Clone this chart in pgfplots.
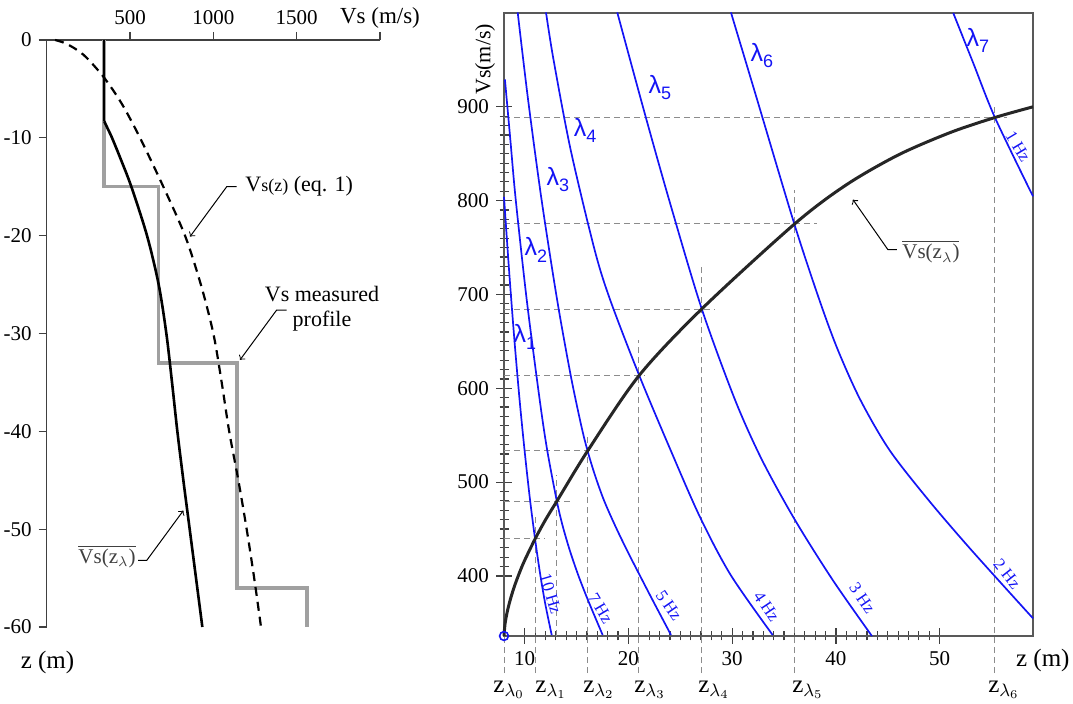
\documentclass[border=0pt]{standalone}
\usepackage{pgfplots}
\pgfplotsset{compat=1.18}
\usepackage{fontspec}
\setmainfont{Liberation Serif}
\newfontfamily\lsans{Liberation Sans}
\newcommand{\lam}[1]{{\lsans λ\raisebox{-0.5ex}{\fontsize{9}{9}\selectfont #1}}}
\newcommand{\zl}[1]{z$_{\lambda_{#1}}$}
\newcommand{\vbar}{$\overline{\mbox{Vs(z$_\lambda$)}}$}
\definecolor{meas}{RGB}{160,160,160}
\definecolor{cblue}{RGB}{20,20,245}
\pgfplotsset{
  dl/.style={black!45, line width=0.5pt, dash pattern=on 3pt off 2pt, forget plot},
  bc/.style={cblue, line width=0.85pt, smooth, forget plot},
}
\tikzset{
  hz/.style={cblue, font=\fontsize{8.5}{8.5}\selectfont, inner sep=0pt},
  lm/.style={cblue, font=\lsans\fontsize{12.5}{12.5}\selectfont, inner sep=0pt},
  zlab/.style={anchor=base west, inner sep=0pt, font=\fontsize{12.5}{13}\selectfont},
}
\begin{document}
\begin{tikzpicture}
\path[use as bounding box] (0,0) rectangle (536.5pt,-352pt);
% ---------------- left panel ----------------
\begin{axis}[
  at={(23.35pt,-313.5pt)}, anchor=south west,
  scale only axis, width=166.65pt, height=293.5pt,
  xmin=0, xmax=2000, ymin=-60, ymax=0,
  axis x line=top, axis y line=left,
  axis line style={-, black!75, line width=0.7pt},
  xtick={500,1000,1500,2000}, xticklabels={500,1000,1500,{}},
  ytick={0,-10,-20,-30,-40,-50,-60},
  yticklabels={0,-10,-20,-30,-40,-50,-60},
  scaled ticks=false,
  tick align=outside, major tick length=4pt,
  tick style={black!75, line width=0.6pt},
  /pgf/number format/assume math mode=true,
  ticklabel style={font=\fontsize{10.5}{12}\selectfont},
  clip=false,
]
\addplot[meas, line width=1.7pt] coordinates {(345,0)(345,-15)(672,-15)(672,-33)(1142,-33)(1142,-56)(1562,-56)(1562,-60)};
\addplot[black, line width=1.3pt] coordinates {(345,0)(345,-8.3)};
\addplot[black, line width=1.3pt, smooth] coordinates {(345,-8.3)(370,-9.2)(392,-10)(440,-12)(508,-15)(602,-20)(672,-25)(718,-30)(752,-35)(784,-40)(820,-45)(858,-50)(896,-55)(934,-60)};
\addplot[black, line width=1.1pt, dash pattern=on 4.5pt off 3pt, smooth] coordinates {(50,0)(120,-0.4)(220,-1.5)(340,-3.75)(450,-6.5)(560,-10)(700,-15)(830,-20)(925,-25)(1000,-30)(1050,-35)(1095,-40)(1150,-45)(1200,-50)(1245,-55)(1286,-60)};
\node[anchor=west, inner sep=0pt, font=\fontsize{11}{11}\selectfont] at (axis cs:1190,-14.9) {V{\fontsize{9}{9}\selectfont s(z)} (eq. 1)};
\draw[->, line width=0.5pt] (axis cs:1140,-15) -- (axis cs:1080,-15) -- (axis cs:860,-20.1);
\node[align=center, inner sep=0pt, font=\fontsize{11}{12.5}\selectfont] at (axis cs:1652,-27.5) {Vs measured\\profile};
\draw[->, line width=0.5pt] (axis cs:1440,-27.6) -- (axis cs:1380,-27.6) -- (axis cs:1160,-32.7);
\node[text=black!75, inner sep=0pt, font=\fontsize{10.5}{11}\selectfont] at (axis cs:362,-52.8) {\vbar};
\draw[->, line width=0.5pt] (axis cs:548,-53.2) -- (axis cs:600,-53.2) -- (axis cs:820,-48.1);
\node[font=\fontsize{12.5}{13}\selectfont] at (axis cs:5,-63.6) {z (m)};
\node[font=\fontsize{11.5}{12}\selectfont] at (axis cs:2000,2.3) {Vs (m/s)};
\end{axis}
% ---------------- right panel ----------------
\begin{axis}[
  at={(252pt,-318pt)}, anchor=south west,
  scale only axis, width=264.5pt, height=311.5pt,
  xmin=8, xmax=59, ymin=336, ymax=1000,
  xtick={10,20,30,40,50}, ytick={400,500,600,700,800,900},
  minor x tick num=9, minor y tick num=9,
  tick pos=left, tick align=center,
  major tick length=8pt, minor tick length=4.5pt,
  axis line style={black!65, line width=0.7pt},
  tick style={black!75, line width=0.6pt},
  scaled ticks=false,
  /pgf/number format/assume math mode=true,
  ticklabel style={font=\fontsize{10.5}{12}\selectfont},
  clip=false,
]
% dashed guide lines
\addplot[dl] coordinates {(8,296.5)(8,336)};
\addplot[dl] coordinates {(10.99,296.5)(10.99,463)};
\addplot[dl] coordinates {(13.08,336)(13.08,507.8)};
\addplot[dl] coordinates {(16.07,296.5)(16.07,549.4)};
\addplot[dl] coordinates {(21.01,296.5)(21.01,651.8)};
\addplot[dl] coordinates {(27.06,296.5)(27.06,729.6)};
\addplot[dl] coordinates {(36.05,296.5)(36.05,811.8)};
\addplot[dl] coordinates {(55.33,296.5)(55.33,902.5)};
\addplot[dl] coordinates {(8,439.5)(11.86,439.5)};
\addplot[dl] coordinates {(8,479.4)(14.65,479.4)};
\addplot[dl] coordinates {(8,533.4)(17.06,533.4)};
\addplot[dl] coordinates {(8,613.4)(21.59,613.4)};
\addplot[dl] coordinates {(8,684.5)(28.34,684.5)};
\addplot[dl] coordinates {(8,775.5)(38.17,775.5)};
\addplot[dl] coordinates {(8,888.6)(56.48,888.6)};
% constant-frequency curves (10, 7, 5, 4, 3, 2, 1 Hz)
\addplot[bc] coordinates {(8,804)(8.5,724)(9,652)(9.5,588)(10,532)(10.5,482)(11,439)(11.5,401)(12,369)(12.6,337)};
\addplot[bc] coordinates {(8.09,929.1)(8.61,865.1)(9.13,801.1)(10.19,694.4)(11.44,587.8)(12.16,534.4)(13.08,480.5)(13.63,454.4)(14.33,427.7)(15.15,401.1)(16.09,374.4)(17.51,337.1)};
\addplot[bc] coordinates {(9.32,1000.6)(10.32,907.8)(11.62,801.1)(13.12,694.4)(14.42,614.4)(15.43,561.1)(16.03,534.4)(16.76,507.7)(17.62,481.1)(18.68,454.4)(19.84,427.7)(21.07,401.1)(22.32,374.4)(24.1,337.1)};
\addplot[bc] coordinates {(12.05,1000.6)(12.77,950.5)(14.42,854.5)(16.73,747.8)(18.23,694.4)(21.01,614.4)(24.05,534.4)(26.89,462.9)(29.85,401.1)(33.9,337.1)};
\addplot[bc] coordinates {(18.92,1000.6)(21.65,889.7)(24.05,795.8)(27.06,684.8)(30.27,587.8)(32.87,523.7)(36.05,459.7)(39.69,395.7)(43.47,336)};
\addplot[bc] coordinates {(29.88,1000.6)(32.4,907.8)(35.98,775.5)(38.4,694.4)(40.18,641.1)(42.35,587.8)(45.15,534.4)(48.91,481.1)(53.05,427.7)(59,354.8)};
\addplot[bc] coordinates {(51.31,1000)(53.23,946.9)(55.33,888.6)(59,804.6)};
% average velocity curve
\addplot[black!85, line width=1.5pt, smooth] coordinates {(8,336)(8.1,348.8)(8.3,361.2)(8.6,374.5)(9,388.8)(9.5,403.7)(10,416.8)(11,439.5)(12,459.8)(13.08,479.4)(16.07,533.4)(21.01,613.4)(27.06,684.5)(36.05,775.5)(41.05,817.2)(46.05,848.9)(51.05,872.7)(55.33,888.6)(59,900)};
\addplot[cblue, only marks, mark=o, mark size=2.2pt, line width=0.8pt] coordinates {(8,336)};
% curve labels
\node[hz, rotate=-73.5] at (axis cs:12.5,380.8) {10 Hz};
\node[hz, rotate=-59.4] at (axis cs:17.3,365.6) {7 Hz};
\node[hz, rotate=-55.6] at (axis cs:23.9,368.3) {5 Hz};
\node[hz, rotate=-56.3] at (axis cs:33.32,367.3) {4 Hz};
\node[hz, rotate=-55.7] at (axis cs:42.54,376.2) {3 Hz};
\node[hz, rotate=-51.7] at (axis cs:56.51,402) {2 Hz};
\node[hz, rotate=-59] at (axis cs:57.57,858) {1 Hz};
\node[lm] at (axis cs:10.02,655) {\lam{1}};
\node[lm] at (axis cs:11.08,747.6) {\lam{2}};
\node[lm] at (axis cs:13.2,822.4) {\lam{3}};
\node[lm] at (axis cs:15.81,874.7) {\lam{4}};
\node[lm] at (axis cs:23.04,920.6) {\lam{5}};
\node[lm] at (axis cs:32.87,954.6) {\lam{6}};
\node[lm] at (axis cs:53.69,970.7) {\lam{7}};
% annotation
\node[text=black!75, inner sep=0pt, font=\fontsize{10.5}{11}\selectfont] at (axis cs:49.16,745.6) {\vbar};
\draw[->, line width=0.5pt] (axis cs:45.88,747.8) -- (axis cs:45.01,747.8) -- (axis cs:41.64,801.1);
% axis labels
\node[rotate=90, font=\fontsize{11}{12}\selectfont] at (axis cs:6.17,950.5) {Vs(m/s)};
\node[font=\fontsize{12.5}{13}\selectfont] at (axis cs:59.95,310.4) {z (m)};
\node[zlab] at (axis cs:6.94,276) {\zl{0}};
\node[zlab] at (axis cs:10.99,276) {\zl{1}};
\node[zlab] at (axis cs:15.61,276) {\zl{2}};
\node[zlab] at (axis cs:20.53,276) {\zl{3}};
\node[zlab] at (axis cs:26.7,276) {\zl{4}};
\node[zlab] at (axis cs:35.76,276) {\zl{5}};
\node[zlab] at (axis cs:54.65,276) {\zl{6}};
\end{axis}
\end{tikzpicture}
\end{document}
